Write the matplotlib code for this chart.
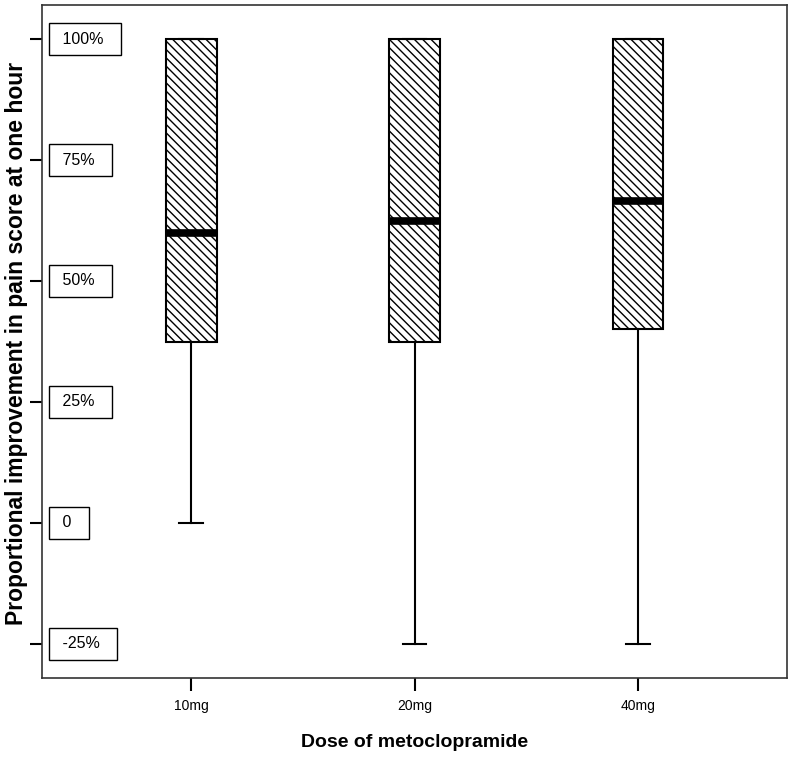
import matplotlib
matplotlib.use("Agg")
import matplotlib.pyplot as plt
import matplotlib.transforms as mtransforms

# data (percent improvement)
doses = ["10mg", "20mg", "40mg"]
q1 = [37.3, 37.3, 40.0]
medians = [60.0, 62.4, 66.5]
q3 = [100, 100, 100]
whisk_low = [0, -25, -25]
whisk_high = [100, 100, 100]

ytick_vals = [100, 75, 50, 25, 0, -25]
ytick_text = ["100%", "75%", "50%", "25%", "0", "-25%"]

plt.rcParams["hatch.linewidth"] = 1.0

fig = plt.figure(figsize=(7.95, 7.58), dpi=100)
ax = fig.add_axes([0.0528, 0.1055, 0.9372, 0.888])

stats = []
for i in range(len(doses)):
    stats.append({
        "label": doses[i],
        "q1": q1[i],
        "med": medians[i],
        "q3": q3[i],
        "whislo": whisk_low[i],
        "whishi": whisk_high[i],
        "fliers": [],
    })

bp = ax.bxp(stats, positions=[1, 2, 3], widths=0.228, capwidths=0.107,
            patch_artist=True, showfliers=False,
            boxprops=dict(facecolor="white", edgecolor="black", linewidth=1.5, hatch="\\\\\\\\"),
            medianprops=dict(color="black", linewidth=5.5, solid_capstyle="butt"),
            whiskerprops=dict(color="black", linewidth=1.5),
            capprops=dict(color="black", linewidth=1.5))

ax.set_xlim(0.333, 3.667)
ax.set_ylim(-32.05, 107.05)

for sp in ax.spines.values():
    sp.set_color("#333333")
    sp.set_linewidth(1.2)

ax.set_yticks(ytick_vals)
ax.set_yticklabels([])
ax.tick_params(axis="y", direction="out", length=9, width=1.5, color="black")
ax.tick_params(axis="x", direction="out", length=9, width=1.5, color="black", pad=6)
ax.set_xticks([1, 2, 3])
ax.set_xticklabels(doses, family="Liberation Sans", fontsize=10)

# boxed y labels sit inside the plot frame
trans = mtransforms.blended_transform_factory(ax.transAxes, ax.transData)
for v, t in zip(ytick_vals, ytick_text):
    ax.text(0.0212, v, " " + t + "  ", transform=trans, ha="left", va="center",
            family="Liberation Sans", fontsize=11.5,
            bbox=dict(boxstyle="square,pad=0.55", facecolor="white", edgecolor="black", linewidth=1))

ax.set_xlabel("Dose of metoclopramide", family="Liberation Sans",
              fontsize=14, fontweight="bold", labelpad=15)
fig.text(0.021, 0.5475, "Proportional improvement in pain score at one hour", rotation=90,
         ha="center", va="center", family="Liberation Sans", fontsize=16.5, fontweight="bold")

fig.savefig("out.png", dpi=100)
